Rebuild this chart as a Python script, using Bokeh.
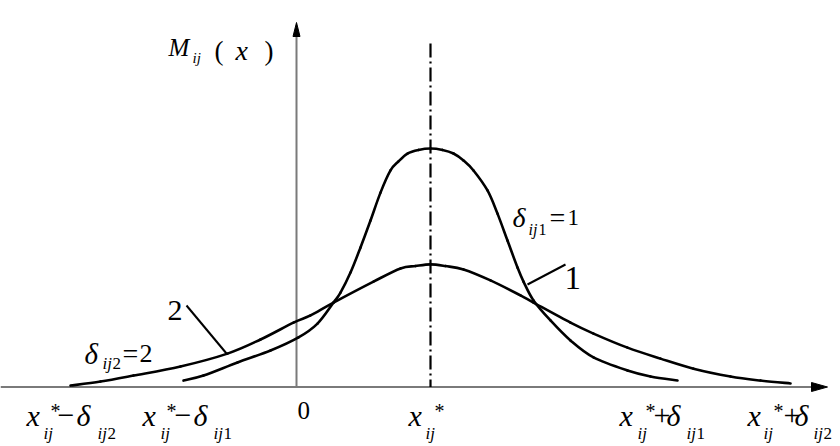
from bokeh.plotting import figure
from bokeh.models import ColumnDataSource, Range1d
from bokeh.core.properties import value, field
from bokeh.embed import file_html
from bokeh.resources import INLINE

# ---------------- data ----------------
x_star = 1.34
delta1 = 2.47
delta2 = 3.60

# narrow membership curve (delta_ij1 = 1)
curve1_x = [-1.13, -0.93, -0.59, -0.26, 0.02, 0.21, 0.37, 0.44, 0.54, 0.64, 0.74, 0.84,
            0.94, 1.02, 1.11, 1.22, 1.34, 1.46, 1.57, 1.67, 1.77, 1.91, 2.01, 2.11,
            2.21, 2.27, 2.37, 2.54, 2.74, 2.97, 3.31, 3.54, 3.81]
curve1_y = [0.027, 0.048, 0.103, 0.153, 0.208, 0.266, 0.354, 0.396, 0.480, 0.585, 0.698, 0.815,
            0.908, 0.946, 0.979, 0.994, 1.000, 0.994, 0.979, 0.950, 0.908, 0.824, 0.727, 0.614,
            0.501, 0.442, 0.363, 0.279, 0.195, 0.124, 0.069, 0.044, 0.027]

# wide membership curve (delta_ij2 = 2)
curve2_x = [-2.26, -1.96, -1.63, -1.16, -0.69, -0.36, -0.03, 0.14, 0.37, 0.77, 1.04, 1.19,
            1.34, 1.49, 1.67, 1.94, 2.24, 2.37, 2.74, 2.97, 3.31, 3.64, 3.97, 4.34, 4.64, 4.94]
curve2_y = [0.006, 0.023, 0.048, 0.086, 0.140, 0.199, 0.270, 0.300, 0.354, 0.442, 0.497, 0.507,
            0.514, 0.507, 0.493, 0.447, 0.384, 0.354, 0.270, 0.224, 0.165, 0.119, 0.077, 0.044,
            0.027, 0.015]

tick_values = [x_star - delta2, x_star - delta1, 0.0, x_star, x_star + delta1, x_star + delta2]

# ---------------- layout ----------------
W, H = 840, 446
PX_X = 100.0     # pixels per x unit
PX_Y = 238.5     # pixels per y unit
X0 = -296 / PX_X
X1 = X0 + W / PX_X
Y1 = 386.5 / PX_Y
Y0 = Y1 - H / PX_Y


def X(px):
    return X0 + px / PX_X


def Y(py):
    return Y1 - py / PX_Y


p = figure(width=W, height=H, x_range=Range1d(X0, X1), y_range=Range1d(Y0, Y1),
           output_backend="svg", toolbar_location=None, min_border=0,
           x_axis_location=None, y_axis_location=None,
           background_fill_color="white", border_fill_color="white")
p.outline_line_color = None
p.xgrid.visible = False
p.ygrid.visible = False

AX = "#7a7a7a"
# axes
p.segment(x0=[X0, 0.0], y0=[0.0, 0.0], x1=[X(814), 0.0], y1=[0.0, Y(34)],
          line_color=AX, line_width=2)
p.patches(xs=[[X(827), X(811), X(811)], [0.0, -3.5 / PX_X, 3.5 / PX_X]],
          ys=[[0.0, 4.5 / PX_Y, -4.5 / PX_Y], [Y(22), Y(36), Y(36)]],
          fill_color="black", line_color="black", line_width=1)

# dash-dot centre line
p.segment(x0=[x_star], y0=[Y(43)], x1=[x_star], y1=[0.0], line_color="black",
          line_width=2.2, line_dash="14 4 2 4")


# curves: smooth cubic Bezier segments passing through every read point
def smooth_curve(xs, ys):
    n = len(xs)
    seg = {k: [] for k in ("x0", "y0", "x1", "y1", "cx0", "cy0", "cx1", "cy1")}
    for i in range(n - 1):
        xm, ym = (xs[i - 1], ys[i - 1]) if i > 0 else (xs[i], ys[i])
        xp, yp = (xs[i + 2], ys[i + 2]) if i + 2 < n else (xs[i + 1], ys[i + 1])
        seg["x0"].append(xs[i]); seg["y0"].append(ys[i])
        seg["x1"].append(xs[i + 1]); seg["y1"].append(ys[i + 1])
        seg["cx0"].append(xs[i] + (xs[i + 1] - xm) / 6)
        seg["cy0"].append(ys[i] + (ys[i + 1] - ym) / 6)
        seg["cx1"].append(xs[i + 1] - (xp - xs[i]) / 6)
        seg["cy1"].append(ys[i + 1] - (yp - ys[i]) / 6)
    p.bezier(x0="x0", y0="y0", x1="x1", y1="y1", cx0="cx0", cy0="cy0", cx1="cx1", cy1="cy1",
             source=ColumnDataSource(seg), line_color="black", line_width=2.6, line_cap="round")


smooth_curve(curve1_x, curve1_y)
smooth_curve(curve2_x, curve2_y)

# leader lines
p.segment(x0=[X(527), X(186)], y0=[Y(284), Y(305)], x1=[X(565), X(226)], y1=[Y(264), Y(353)],
          line_color="black", line_width=2)

# ---------------- texts ----------------
FONT = "Liberation Serif"
pieces = {"x": [], "y": [], "text": [], "size": [], "style": []}


def put(xd, py, text, size, style):
    pieces["x"].append(xd)
    pieces["y"].append(Y(py))
    pieces["text"].append(text)
    pieces["size"].append(f"{size}px")
    pieces["style"].append(style)


MAIN, SUB, STAR = 30, 17, 20
BL, BL_SUB, BL_STAR = 415, 433, 410


def tick_label(anchor, parts):
    for text, dx, kind in parts:
        if kind == "v":
            put(anchor + dx / PX_X, BL, text, MAIN, "italic")
        elif kind == "o":
            put(anchor + dx / PX_X, BL, text, MAIN, "normal")
        elif kind == "s":
            put(anchor + dx / PX_X, BL_SUB, text, SUB, "italic")
        elif kind == "sn":
            put(anchor + dx / PX_X, BL_SUB, text, SUB, "normal")
        elif kind == "star":
            put(anchor + dx / PX_X, BL_STAR, text, STAR, "normal")


tick_label(tick_values[0], [("x", -44, "v"), ("ij", -27, "s"), ("*", -20, "star"),
                            ("\u2212", -13, "o"), ("\u03b4", 6, "v"), ("ij", 27, "s"), ("2", 37, "sn")])
tick_label(tick_values[1], [("x", -41, "v"), ("ij", -23, "s"), ("*", -17, "star"),
                            ("\u2212", -9, "o"), ("\u03b4", 10, "v"), ("ij", 30, "s"), ("1", 40, "sn")])
put(tick_values[2] + 1 / PX_X, 410, "0", 25, "normal")
tick_label(tick_values[3], [("x", -22, "v"), ("ij", -5, "s"), ("*", 4, "star")])
tick_label(tick_values[4], [("x", -58, "v"), ("ij", -40, "s"), ("*", -32, "star"),
                            ("+", -24, "o"), ("\u03b4", -11, "v"), ("ij", 9, "s"), ("1", 19, "sn")])
tick_label(tick_values[5], [("x", -43, "v"), ("ij", -27, "s"), ("*", -17, "star"),
                            ("+", -7, "o"), ("\u03b4", 4, "v"), ("ij", 23, "s"), ("2", 33, "sn")])

# y-axis title M_ij(x)
put(X(168), 47, "M", 25, "italic")
put(X(192), 57, "ij", 15, "italic")
put(X(214), 50, "(", 27, "normal")
put(X(235), 50, "x", 28, "italic")
put(X(264), 50, ")", 27, "normal")

# delta_ij1 = 1
put(X(512), 217, "\u03b4", 28, "italic")
put(X(528), 229, "ij", 16, "italic")
put(X(538), 229, "1", 16, "normal")
put(X(549), 217, "=", 28, "normal")
put(X(567), 217, "1", 23, "normal")

# delta_ij2 = 2
put(X(84), 353, "\u03b4", 29, "italic")
put(X(102), 363, "ij", 17, "italic")
put(X(112), 363, "2", 17, "normal")
put(X(122), 353, "=", 28, "normal")
put(X(139), 353, "2", 26, "normal")

# curve numbers
put(X(564), 277, "1", 33, "normal")
put(X(167), 310, "2", 30, "normal")

src = ColumnDataSource(pieces)
p.text(x="x", y="y", text="text", source=src, text_font=value(FONT),
       text_font_size=field("size"), text_font_style=field("style"),
       text_align="left", text_baseline="alphabetic", text_color="black")

open("out.html", "w").write(file_html(p, INLINE))
